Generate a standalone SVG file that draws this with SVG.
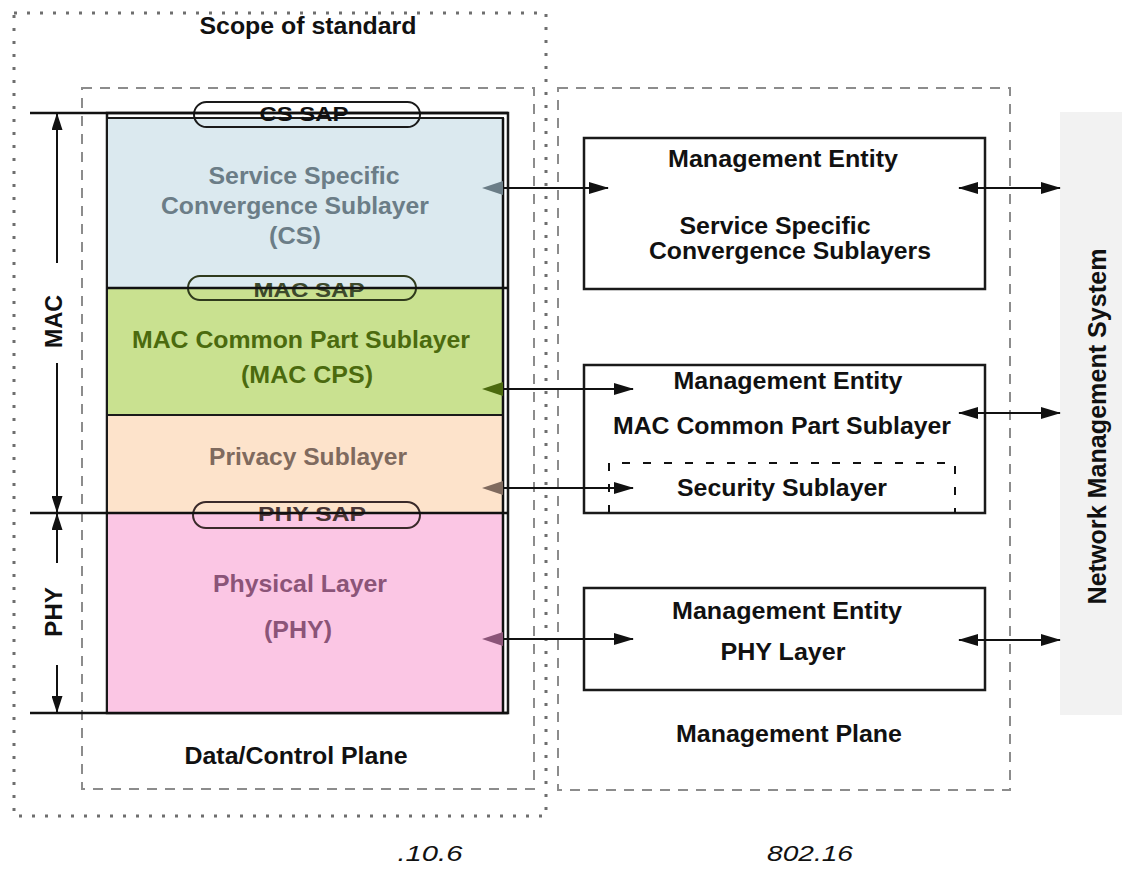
<svg xmlns="http://www.w3.org/2000/svg" width="1122" height="873" viewBox="0 0 1122 873">
<defs>
<style>
text{font-family:"Liberation Sans",Arial,Helvetica,sans-serif;font-weight:bold;text-anchor:middle;fill:#111}
.f20{font-size:21px}
.f22{font-size:23.5px}
.f23{font-size:24px}
.f24{font-size:25px}
.cap{font-size:22px;font-weight:normal;font-style:italic}
.cs{fill:#6b7d87}
.mac{fill:#4b6a0e}
.prv{fill:#7f6a5e}
.phy{fill:#8b5478}
.dot{fill:none;stroke:#6e6e6e;stroke-width:3;stroke-dasharray:3 10}
.dash{fill:none;stroke:#8c8c8c;stroke-width:2;stroke-dasharray:10 8}
.box{fill:#fff;stroke:#1a1a1a;stroke-width:2.5}
.lay{stroke:#1a1a1a;stroke-width:2}
.pill{fill:none;stroke-width:2}
.conn{stroke:#111;stroke-width:2;fill:none}
.rule{stroke:#111;stroke-width:2.5;fill:none}
</style>
<marker id="ah" viewBox="0 0 20 12" markerWidth="20" markerHeight="12" refX="19" refY="6" orient="auto-start-reverse" markerUnits="userSpaceOnUse">
<path d="M0,0 L20,6 L0,12 z" fill="#111"/>
</marker>
<marker id="av" viewBox="0 0 17 11" markerWidth="17" markerHeight="11" refX="16" refY="5.5" orient="auto" markerUnits="userSpaceOnUse">
<path d="M0,0 L17,5.5 L0,11 z" fill="#111"/>
</marker>
<marker id="hcs" viewBox="0 0 21 14" markerWidth="21" markerHeight="14" refX="0" refY="7" orient="auto-start-reverse" markerUnits="userSpaceOnUse">
<path d="M0,0 L21,7 L0,14 z" fill="#6b7d87"/>
</marker>
<marker id="hmac" viewBox="0 0 21 14" markerWidth="21" markerHeight="14" refX="0" refY="7" orient="auto-start-reverse" markerUnits="userSpaceOnUse">
<path d="M0,0 L21,7 L0,14 z" fill="#4b6a0e"/>
</marker>
<marker id="hprv" viewBox="0 0 21 14" markerWidth="21" markerHeight="14" refX="0" refY="7" orient="auto-start-reverse" markerUnits="userSpaceOnUse">
<path d="M0,0 L21,7 L0,14 z" fill="#7f6a5e"/>
</marker>
<marker id="hphy" viewBox="0 0 21 14" markerWidth="21" markerHeight="14" refX="0" refY="7" orient="auto-start-reverse" markerUnits="userSpaceOnUse">
<path d="M0,0 L21,7 L0,14 z" fill="#8b5478"/>
</marker>
</defs>
<rect width="1122" height="873" fill="#fff"/>

<g id="scope">
<rect class="dot" x="14" y="13" width="532" height="803"/>
<text class="f22" x="308" y="34" textLength="217" lengthAdjust="spacingAndGlyphs">Scope of standard</text>
</g>

<g id="data-control-plane">
<rect class="dash" x="82" y="88" width="452" height="701"/>
<text class="f22" x="296" y="764" textLength="223" lengthAdjust="spacingAndGlyphs">Data/Control Plane</text>
</g>

<g id="management-plane">
<rect class="dash" x="558" y="88" width="452" height="702"/>
<text class="f22" x="789" y="742" textLength="226" lengthAdjust="spacingAndGlyphs">Management Plane</text>
</g>

<g id="nms">
<rect x="1060" y="112" width="62" height="603" fill="#f2f2f2"/>
<text class="f24" transform="translate(1106,426.5) rotate(-90)" textLength="356" lengthAdjust="spacingAndGlyphs">Network Management System</text>
</g>

<g id="stack">
<rect x="107" y="113" width="401" height="600" fill="#fff" stroke="#1a1a1a" stroke-width="2.5"/>
</g>

<g id="cs-layer">
<rect class="lay" x="107" y="118" width="396" height="170" fill="#dbe9ef"/>
<text class="f23 cs" x="304" y="184" textLength="191" lengthAdjust="spacingAndGlyphs">Service Specific</text>
<text class="f23 cs" x="295" y="214" textLength="268" lengthAdjust="spacingAndGlyphs">Convergence Sublayer</text>
<text class="f23 cs" x="295" y="244" textLength="52" lengthAdjust="spacingAndGlyphs">(CS)</text>
</g>

<g id="mac-cps-layer">
<rect class="lay" x="107" y="288" width="396" height="127" fill="#c9e190"/>
<text class="f23 mac" x="301" y="348" textLength="338" lengthAdjust="spacingAndGlyphs">MAC Common Part Sublayer</text>
<text class="f23 mac" x="307" y="383" textLength="132" lengthAdjust="spacingAndGlyphs">(MAC CPS)</text>
</g>

<g id="privacy-layer">
<rect class="lay" x="107" y="415" width="396" height="98" fill="#fde3cb"/>
<text class="f23 prv" x="308" y="465" textLength="198" lengthAdjust="spacingAndGlyphs">Privacy Sublayer</text>
</g>

<g id="phy-layer">
<rect class="lay" x="107" y="513" width="396" height="200" fill="#fbc6e4"/>
<text class="f23 phy" x="300" y="592" textLength="174" lengthAdjust="spacingAndGlyphs">Physical Layer</text>
<text class="f23 phy" x="298" y="638" textLength="68" lengthAdjust="spacingAndGlyphs">(PHY)</text>
</g>

<g id="cs-sap">
<rect class="pill" x="194" y="102" width="226" height="25" rx="12.5" stroke="#1a1a1a"/>
<text class="f20" x="304" y="121" textLength="89" lengthAdjust="spacingAndGlyphs">CS SAP</text>
</g>

<g id="mac-sap">
<rect class="pill" x="188" y="276" width="228" height="24" rx="12" stroke="#2f3a1c"/>
<text class="f20" x="309" y="297" textLength="111" lengthAdjust="spacingAndGlyphs" style="fill:#3d4a2c">MAC SAP</text>
</g>

<g id="phy-sap">
<rect class="pill" x="193" y="502" width="227" height="26" rx="13" stroke="#3a2a2a"/>
<text class="f20" x="312" y="521" textLength="108" lengthAdjust="spacingAndGlyphs" style="fill:#4a3535">PHY SAP</text>
</g>

<g id="rules">
<path class="rule" d="M30,113 H508"/>
<path class="rule" d="M107,288 H508"/>
<path class="rule" d="M30,513 H508"/>
<path class="rule" d="M30,713 H508"/>
<path class="rule" d="M503,118 V713"/>
</g>

<g id="scope-labels">
<text class="f23" transform="translate(62,321.5) rotate(-90)" textLength="53" lengthAdjust="spacingAndGlyphs">MAC</text>
<text class="f23" transform="translate(62,612) rotate(-90)" textLength="50" lengthAdjust="spacingAndGlyphs">PHY</text>
</g>

<g id="me-cs">
<rect class="box" x="584" y="138" width="401" height="151"/>
<text class="f22" x="783" y="167" textLength="230" lengthAdjust="spacingAndGlyphs">Management Entity</text>
<text class="f22" x="775" y="234" textLength="191" lengthAdjust="spacingAndGlyphs">Service Specific</text>
<text class="f22" x="790" y="259" textLength="282" lengthAdjust="spacingAndGlyphs">Convergence Sublayers</text>
</g>

<g id="me-mac">
<rect class="box" x="584" y="365" width="401" height="148"/>
<text class="f22" x="788" y="389" textLength="229" lengthAdjust="spacingAndGlyphs">Management Entity</text>
<text class="f22" x="782" y="434" textLength="338" lengthAdjust="spacingAndGlyphs">MAC Common Part Sublayer</text>
<path d="M609,513 V463 H955 V513" fill="none" stroke="#111" stroke-width="2" stroke-dasharray="8 13"/>
<text class="f22" x="782" y="496" textLength="210" lengthAdjust="spacingAndGlyphs">Security Sublayer</text>
</g>

<g id="me-phy">
<rect class="box" x="584" y="588" width="401" height="102"/>
<text class="f22" x="787" y="619" textLength="230" lengthAdjust="spacingAndGlyphs">Management Entity</text>
<text class="f22" x="783" y="660" textLength="125" lengthAdjust="spacingAndGlyphs">PHY Layer</text>
</g>

<g id="connectors">
<path class="conn" d="M57,263 V114" marker-end="url(#av)"/>
<path class="conn" d="M57,363 V512" marker-end="url(#av)"/>
<path class="conn" d="M57,563 V514" marker-end="url(#av)"/>
<path class="conn" d="M57,665 V712" marker-end="url(#av)"/>
<path class="conn" d="M503,188 H608" marker-start="url(#hcs)" marker-end="url(#ah)"/>
<path class="conn" d="M503,389 H633" marker-start="url(#hmac)" marker-end="url(#ah)"/>
<path class="conn" d="M503,488 H633" marker-start="url(#hprv)" marker-end="url(#ah)"/>
<path class="conn" d="M503,639 H633" marker-start="url(#hphy)" marker-end="url(#ah)"/>
<path class="conn" d="M959,188 H1060" marker-start="url(#ah)" marker-end="url(#ah)"/>
<path class="conn" d="M959,413 H1060" marker-start="url(#ah)" marker-end="url(#ah)"/>
<path class="conn" d="M959,640 H1060" marker-start="url(#ah)" marker-end="url(#ah)"/>
</g>

<g id="captions">
<text class="cap" x="430" y="861" textLength="65" lengthAdjust="spacingAndGlyphs">.10.6</text>
<text class="cap" x="810" y="861" textLength="86" lengthAdjust="spacingAndGlyphs">802.16</text>
</g>
</svg>
